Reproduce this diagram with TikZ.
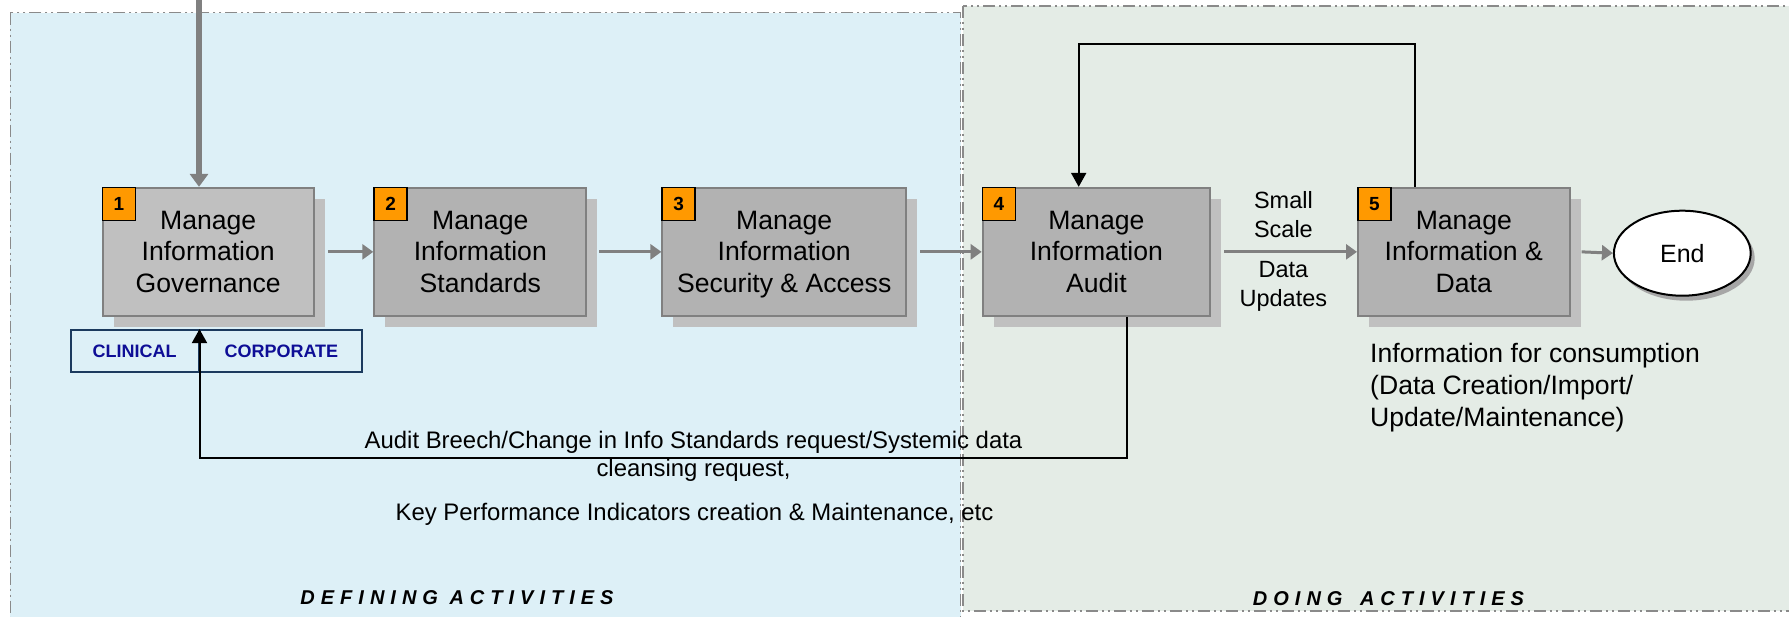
\documentclass[tikz,border=0pt]{standalone}
\usepackage{fontspec}
\setmainfont{Liberation Sans}
\usetikzlibrary{arrows.meta,shadows,shapes.geometric,calc}

\definecolor{defbg}{HTML}{DDF0F7}
\definecolor{dobg}{HTML}{E4ECE6}
\definecolor{framegray}{HTML}{8A8A8A}
\definecolor{boxfill}{HTML}{B2B2B2}
\definecolor{boxfirst}{HTML}{C0C0C0}
\definecolor{boxline}{HTML}{808080}
\definecolor{shade}{HTML}{C0C0C0}
\definecolor{badgeorange}{HTML}{FF9900}
\definecolor{navyline}{HTML}{1B3A5E}
\definecolor{navytext}{HTML}{0E0E96}
\definecolor{flowgray}{HTML}{808080}

\begin{document}
\begin{tikzpicture}[x=1pt,y=-1pt,
  panelframe/.style={draw=framegray, line width=1.5pt,
    dash pattern=on 12pt off 4pt on 2pt off 4pt on 2pt off 4pt},
  procbox/.style={draw=boxline, line width=2pt, fill=boxfill,
    minimum height=128pt, inner sep=0pt, align=center,
    font=\fontsize{26.6}{31.7}\selectfont,
    drop shadow={shadow xshift=11pt, shadow yshift=-11pt, fill=shade, opacity=1}},
  badgebox/.style={draw=black, line width=1.6pt, fill=badgeorange,
    minimum size=33pt, inner sep=0pt, anchor=north west,
    font=\bfseries\fontsize{19}{19}\selectfont},
  tagbox/.style={draw=navyline, line width=1.8pt, minimum height=42pt,
    inner sep=0pt, text=navytext, font=\bfseries\fontsize{18}{18}\selectfont},
  grayarrow/.style={draw=flowgray, line width=3pt,
    -{Triangle[length=11pt,width=15pt]}},
  bigarrow/.style={draw=flowgray, line width=5.4pt,
    -{Triangle[length=13pt,width=18pt]}},
  blackarrow/.style={draw=black, line width=2pt,
    -{Triangle[length=14pt,width=15pt]}},
  flowlabel/.style={align=center, inner sep=0pt,
    font=\fontsize{23.5}{29}\selectfont},
  notetext/.style={align=center, inner sep=0pt,
    font=\fontsize{23.9}{28.7}\selectfont},
  zonelabel/.style={inner sep=0pt,
    font=\bfseries\itshape\fontsize{20}{20}\selectfont\addfontfeature{LetterSpace=30}},
  endnode/.style={ellipse, draw=black, line width=2pt, fill=white,
    minimum width=136.8pt, minimum height=85pt, inner sep=0pt,
    font=\fontsize{25}{25}\selectfont,
    drop shadow={shadow xshift=4pt, shadow yshift=-5pt, fill=black!35, opacity=1}}
]
\useasboundingbox (0,0) rectangle (1789,616);
\clip (0,0) rectangle (1789,616);

% activity zones
\draw[panelframe, fill=defbg] (10.3,12.7) rectangle (960.5,660);
\draw[panelframe, fill=dobg] (962.8,6) rectangle (1830,611);

% process steps
\node[procbox, fill=boxfirst, minimum width=211.2pt] (b1) at (208.2,251.85)
  {Manage\\Information\\Governance};
\node[procbox, minimum width=212pt] (b2) at (480.3,251.85)
  {Manage\\Information\\Standards};
\node[procbox, minimum width=243.6pt] (b3) at (784.2,251.85)
  {Manage\\Information\\Securit\smash{y} \& Access};
\node[procbox, minimum width=227.3pt] (b4) at (1096.35,251.85)
  {Manage\\Information\\Audit};
\node[procbox, minimum width=211.6pt] (b5) at (1463.8,251.85)
  {Manage\\Information \&\\Data};

% step numbers
\node[badgebox] (n1) at (b1.north west) {1};
\node[badgebox] (n2) at (b2.north west) {2};
\node[badgebox] (n3) at (b3.north west) {3};
\node[badgebox] (n4) at (b4.north west) {4};
\node[badgebox] (n5) at (b5.north west) {5};

% end terminal
\node[endnode] (end) at (1682.3,253.2) {End};

% domain tags
\node[tagbox, minimum width=127.8pt] (clin) at (134.7,351) {CLINICAL};
\node[tagbox, minimum width=161.9pt, anchor=west] (corp) at (clin.east) {CORPORATE};

% main flow
\coordinate (topin) at (199,0);
\draw[bigarrow] (topin) -- (topin |- b1.north);
\draw[grayarrow] ([xshift=13pt]b1.east) -- (b2.west);
\draw[grayarrow] ([xshift=12pt]b2.east) -- (b3.west);
\draw[grayarrow] ([xshift=13pt]b3.east) -- (b4.west);
\draw[grayarrow] ([xshift=13pt]b4.east) -- (b5.west);
\draw[grayarrow] ([xshift=11pt]b5.east) -- (end.west);

% loop back from data management to audit
\coordinate (loopR) at (1414.9,43.7);
\coordinate (loopL) at (1078.7,43.7);
\draw[blackarrow] (b5.north -| loopR) -- (loopR) -- (loopL) -- (loopL |- b4.north);

% feedback from audit to governance
\coordinate (fbR) at (1127.4,457.7);
\draw[blackarrow] (b4.south -| fbR) -- (fbR) -| (clin.north east);

% labels
\node[flowlabel] (small) at (1283.4,214.5) {Small\\Scale};
\node[flowlabel] (upd) at (1283.4,286.3) {Data\\Updates};
\node[anchor=west, align=left, inner sep=0pt,
  font=\fontsize{26.6}{32}\selectfont] (info) at (1370,388)
  {Information for consumption\\(Data Creation/Import/\\Update/Maintenance)};
\node[notetext] (fb1) at (693.5,456.4)
  {Audit Breech/Change in Info Standards request/Systemic data\\cleansing request,};
\node[notetext] (fb2) at (694.5,514.3)
  {Key Performance Indicators creation \& Maintenance, etc};

\node[zonelabel] (deflabel) at (457,597.3) {DEFINING ACTIVITIES};
\node[zonelabel] (dolabel) at (1388.5,599) {DOING\hspace{6pt} ACTIVITIES};
\end{tikzpicture}
\end{document}
